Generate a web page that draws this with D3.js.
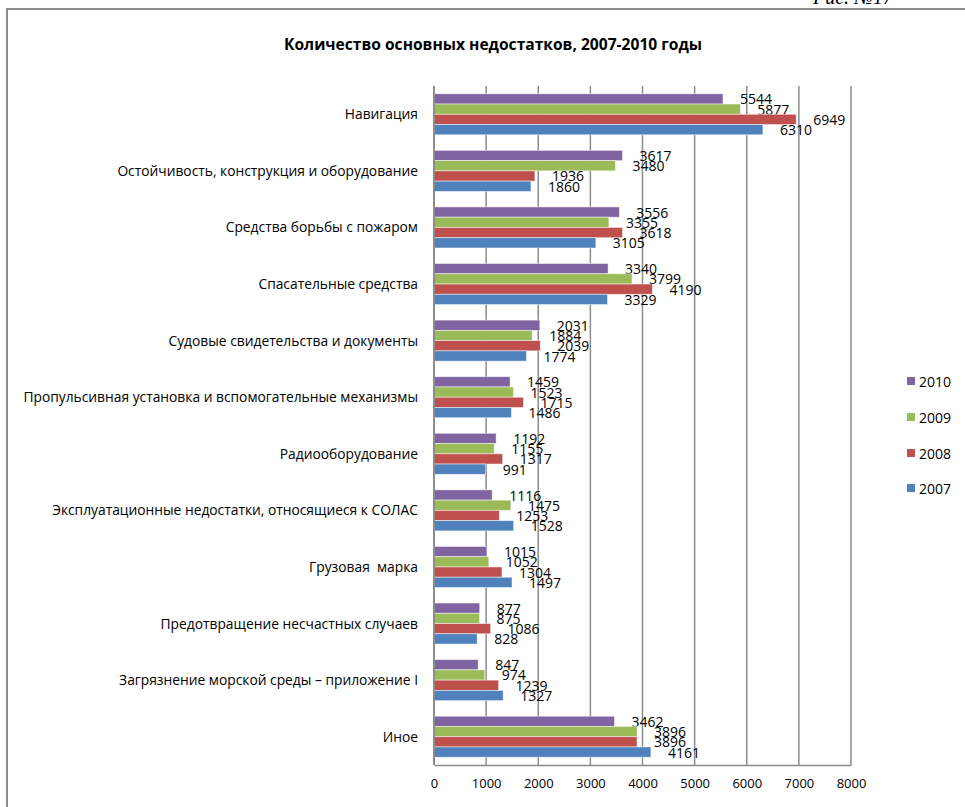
<!DOCTYPE html>
<html><head><meta charset="utf-8">
<script src="https://cdn.jsdelivr.net/npm/d3@7/dist/d3.min.js"></script>
<style>body{margin:0;background:#fff}svg{display:block}</style>
</head><body>
<svg id="c" width="965" height="807"></svg>
<script>
const categories = [
  "Навигация",
  "Остойчивость, конструкция и оборудование",
  "Средства борьбы с пожаром",
  "Спасательные средства",
  "Судовые свидетельства и документы",
  "Пропульсивная установка и вспомогательные механизмы",
  "Радиооборудование",
  "Эксплуатационные недостатки, относящиеся к СОЛАС",
  "Грузовая  марка",
  "Предотвращение несчастных случаев",
  "Загрязнение морской среды – приложение I",
  "Иное"
];
const seriesNames = ["2010", "2009", "2008", "2007"];
const values2010 = [5544, 3617, 3556, 3340, 2031, 1459, 1192, 1116, 1015, 877, 847, 3462];
const values2009 = [5877, 3480, 3355, 3799, 1884, 1523, 1155, 1475, 1052, 875, 974, 3896];
const values2008 = [6949, 1936, 3618, 4190, 2039, 1715, 1317, 1253, 1304, 1086, 1239, 3896];
const values2007 = [6310, 1860, 3105, 3329, 1774, 1486, 991, 1528, 1497, 828, 1327, 4161];
const xTicks = [0, 1000, 2000, 3000, 4000, 5000, 6000, 7000, 8000];
const title = "Количество основных недостатков, 2007-2010 годы";
const colors = ["#8064A2", "#9BBB59", "#C0504D", "#4F81BD"];
const seriesValues = [values2010, values2009, values2008, values2007];

(function () {
const svg = d3.select("#c");
const font = "'Open Sans', 'Liberation Sans', sans-serif";

// frame
svg.append("path").attr("d", "M7,812 L7,9 L970,9").attr("fill","none")
  .attr("stroke","#8c8c8c").attr("stroke-width",2);
svg.append("text").attr("x", 813).attr("y", 4).attr("font-family","'Liberation Serif', serif")
  .attr("font-style","italic").attr("font-size",20).attr("fill","#000").text("Рис. №17");

const pL = 434, pR = 851, pT = 86, pB = 765;
const x = d3.scaleLinear().domain([0, 8000]).range([pL, pR]);
const y = d3.scaleBand().domain(categories).range([pT, pB]).paddingInner(0.275).paddingOuter(0.1375);
const yi = d3.scaleBand().domain(seriesNames).range([0, y.bandwidth()]);

// grid
svg.append("g").selectAll("line").data(xTicks.slice(1)).join("line")
  .attr("x1", d => x(d)).attr("x2", d => x(d)).attr("y1", pT).attr("y2", pB)
  .attr("stroke", "#8c8c8c").attr("stroke-width", 1.5);

// x axis
const xAxis = svg.append("g").attr("transform", `translate(0,${pB})`)
  .call(d3.axisBottom(x).tickValues(xTicks).tickSize(0).tickPadding(14).tickFormat(d3.format("d")));
xAxis.select(".domain").attr("stroke", "#8c8c8c").attr("stroke-width", 1.5);
xAxis.selectAll("text").attr("font-family", font).attr("font-size", 13).attr("fill", "#000");

// bars
const groups = svg.append("g").selectAll("g").data(categories).join("g")
  .attr("transform", d => `translate(0,${y(d)})`);
seriesNames.forEach((s, si) => {
  groups.append("rect")
    .attr("x", x(0)).attr("y", yi(s))
    .attr("width", (d, i) => x(seriesValues[si][i]) - x(0))
    .attr("height", yi.bandwidth())
    .attr("fill", colors[si]).attr("stroke", "#ffffff").attr("stroke-opacity", 0.6).attr("stroke-width", 0.8);
  groups.append("text")
    .attr("x", (d, i) => x(seriesValues[si][i]) + 17)
    .attr("y", yi(s) + yi.bandwidth() / 2 + 5.5)
    .attr("font-family", font).attr("font-size", 14).attr("fill", "#000")
    .text((d, i) => seriesValues[si][i]);
});

// y axis line
svg.append("line").attr("x1", pL).attr("x2", pL).attr("y1", pT).attr("y2", pB)
  .attr("stroke", "#8c8c8c").attr("stroke-width", 2);

// category labels
svg.append("g").selectAll("text").data(categories).join("text")
  .attr("x", 418).attr("y", d => y(d) + y.bandwidth() / 2 + 5)
  .attr("text-anchor", "end").attr("font-family", font).attr("font-size", 13.8).attr("fill", "#000")
  .attr("xml:space", "preserve").style("white-space", "pre")
  .text(d => d);

// title
svg.append("text").attr("x", 493).attr("y", 50).attr("text-anchor", "middle")
  .attr("font-family", font).attr("font-weight", "bold").attr("font-size", 15.6).attr("fill", "#000")
  .text(title);

// legend
const legendY = [381, 417, 453, 488];
const lg = svg.append("g").selectAll("g").data(seriesNames).join("g")
  .attr("transform", (d, i) => `translate(907,${legendY[i]})`);
lg.append("rect").attr("x", 0).attr("y", -4).attr("width", 8).attr("height", 8)
  .attr("fill", (d, i) => colors[i]);
lg.append("text").attr("x", 12).attr("y", 5.5).attr("font-family", font).attr("font-size", 14)
  .attr("fill", "#000").text(d => d);
})();
</script>
</body></html>
